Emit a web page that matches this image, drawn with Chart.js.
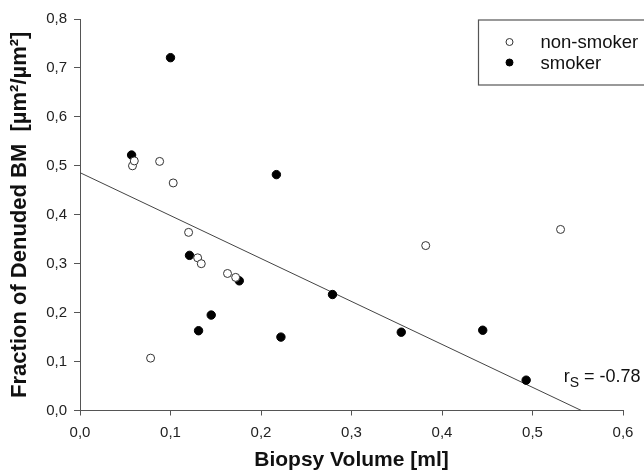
<!DOCTYPE html>
<html>
<head>
<meta charset="utf-8">
<script src="https://cdn.jsdelivr.net/npm/chart.js@4"></script>
<style>
  html, body { margin: 0; padding: 0; background: #fff; }
  #wrap { width: 644px; height: 471px; }
</style>
</head>
<body>
<div id="wrap"><canvas id="c" width="644" height="471"></canvas></div>
<script>
// ---- data ----
const nonSmokerX = [0.058, 0.060, 0.088, 0.103, 0.120, 0.130, 0.134, 0.163, 0.172, 0.078, 0.382, 0.531];
const nonSmokerY = [0.500, 0.510, 0.509, 0.465, 0.364, 0.312, 0.300, 0.280, 0.272, 0.107, 0.337, 0.370];
const smokerX = [0.057, 0.100, 0.217, 0.121, 0.176, 0.145, 0.131, 0.222, 0.279, 0.355, 0.445, 0.493];
const smokerY = [0.522, 0.721, 0.482, 0.317, 0.265, 0.195, 0.163, 0.150, 0.237, 0.160, 0.164, 0.062];
const fitX = [0.0, 0.554];
const fitY = [0.486, 0.0];
const seriesNames = ['non-smoker', 'smoker'];
const xTicks = [0.0, 0.1, 0.2, 0.3, 0.4, 0.5, 0.6];
const yTicks = [0.0, 0.1, 0.2, 0.3, 0.4, 0.5, 0.6, 0.7, 0.8];
const xTitle = 'Biopsy Volume [ml]';
const yTitle = 'Fraction of Denuded BM  [µm²/µm²]';
const corrLabel = { main: 'r', sub: 'S', rest: ' = -0.78' };

const toPts = (xs, ys) => xs.map((x, i) => ({ x: x, y: ys[i] }));
const fmt = v => Number(v).toFixed(1).replace('.', ',');
const FONT = "'Liberation Sans', Arial, sans-serif";

const legendPlugin = {
  id: 'boxLegend',
  afterDatasetsDraw(chart) {
    const ctx = chart.ctx;
    const ca = chart.chartArea;
    const left = ca.right - 144.5, top = ca.top + 1;
    ctx.save();
    ctx.strokeStyle = '#555';
    ctx.lineWidth = 1.2;
    ctx.strokeRect(left, top, 220, 65);
    const ds = chart.data.datasets;
    const rows = [top + 22, top + 42.5];
    for (let i = 0; i < 2; i++) {
      ctx.beginPath();
      ctx.arc(left + 31, rows[i], 3.5, 0, Math.PI * 2);
      ctx.fillStyle = ds[i].backgroundColor;
      ctx.fill();
      ctx.lineWidth = 1;
      ctx.strokeStyle = ds[i].borderColor;
      ctx.stroke();
      ctx.fillStyle = '#111';
      ctx.font = '18.5px ' + FONT;
      ctx.textBaseline = 'middle';
      ctx.textAlign = 'left';
      ctx.fillText(ds[i].label, left + 62, rows[i] + 1);
    }
    ctx.restore();
  }
};

const corrPlugin = {
  id: 'corrText',
  afterDatasetsDraw(chart) {
    const ctx = chart.ctx;
    const xs = chart.scales.x, ys = chart.scales.y;
    const px = xs.getPixelForValue(0.5345);
    const py = ys.getPixelForValue(0.059);
    ctx.save();
    ctx.fillStyle = '#111';
    ctx.textBaseline = 'alphabetic';
    ctx.textAlign = 'left';
    ctx.font = '18px ' + FONT;
    ctx.fillText(corrLabel.main, px, py);
    let w = ctx.measureText(corrLabel.main).width;
    ctx.font = '14px ' + FONT;
    ctx.fillText(corrLabel.sub, px + w, py + 5);
    w += ctx.measureText(corrLabel.sub).width;
    ctx.font = '18px ' + FONT;
    ctx.fillText(corrLabel.rest, px + w, py);
    ctx.restore();
  }
};

new Chart(document.getElementById('c'), {
  type: 'scatter',
  data: {
    datasets: [
      {
        label: seriesNames[0],
        data: toPts(nonSmokerX, nonSmokerY),
        backgroundColor: '#ffffff',
        borderColor: '#333333',
        borderWidth: 1,
        pointRadius: 4,
        pointHoverRadius: 4
      },
      {
        label: seriesNames[1],
        data: toPts(smokerX, smokerY),
        backgroundColor: '#000000',
        borderColor: '#000000',
        borderWidth: 1,
        pointRadius: 4.2,
        pointHoverRadius: 4.2
      },
      {
        label: 'fit',
        data: toPts(fitX, fitY),
        showLine: true,
        borderColor: '#444444',
        borderWidth: 1,
        pointRadius: 0,
        fill: false
      }
    ]
  },
  options: {
    responsive: false,
    animation: false,
    devicePixelRatio: 1,
    layout: { padding: { top: 19, right: 21, left: 0, bottom: 0 } },
    plugins: { legend: { display: false }, tooltip: { enabled: false } },
    scales: {
      x: {
        type: 'linear',
        min: 0, max: 0.6,
        afterFit(s) { s.height = 60.5; },
        afterBuildTicks(s) { s.ticks = xTicks.map(v => ({ value: v })); },
        grid: { display: true, drawOnChartArea: false, drawTicks: true, tickLength: 5, color: '#555', lineWidth: 1 },
        border: { display: true, color: '#555', width: 1 },
        ticks: { color: '#222', font: { family: FONT, size: 15 }, padding: 8, callback: v => fmt(v), maxRotation: 0 },
        title: { display: true, text: xTitle, color: '#111', font: { family: FONT, size: 21, weight: 'bold', lineHeight: 1 }, padding: { top: 0, bottom: 0 } }
      },
      y: {
        type: 'linear',
        min: 0, max: 0.8,
        afterFit(s) { s.width = 80; },
        afterBuildTicks(s) { s.ticks = yTicks.map(v => ({ value: v })); },
        grid: { display: true, drawOnChartArea: false, drawTicks: true, tickLength: 6, color: '#555', lineWidth: 1 },
        border: { display: true, color: '#555', width: 1 },
        ticks: { color: '#222', font: { family: FONT, size: 15 }, padding: 7, callback: v => fmt(v) },
        title: { display: true, text: yTitle, color: '#111', font: { family: FONT, size: 22, weight: 'bold', lineHeight: 1 }, padding: { top: 9, bottom: 0 } }
      }
    }
  },
  plugins: [legendPlugin, corrPlugin]
});
</script>
</body>
</html>
